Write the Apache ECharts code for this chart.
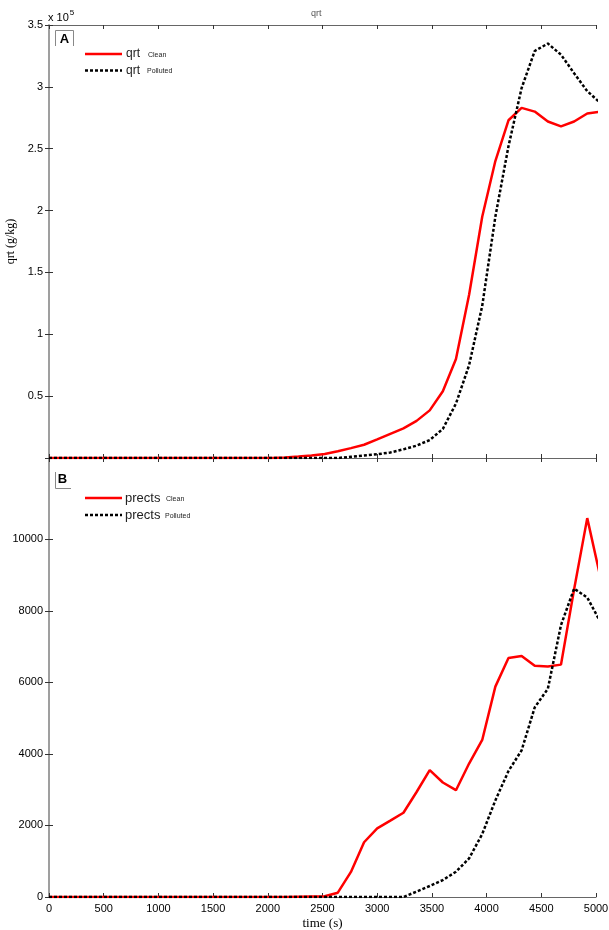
<!DOCTYPE html>
<html>
<head>
<meta charset="utf-8">
<script src="https://cdn.jsdelivr.net/npm/echarts@6/dist/echarts.min.js"></script>
<style>html,body{margin:0;padding:0;background:#fff}#c{width:609px;height:930px}</style>
</head>
<body>
<div id="c"></div>
<script>
const times = [0,120,240,360,480,600,720,840,960,1080,1200,1320,1440,1560,1680,1800,1920,2040,2160,2280,2400,2520,2640,2760,2880,3000,3120,3240,3360,3480,3600,3720,3840,3960,4080,4200,4320,4440,4560,4680,4800,4920,5040];
const qrtClean = [0,0,0,0,0,0,0,0,0,0,0,0,0,0,0,0,0,0,500,1200,2000,3300,5500,8000,10700,15000,19500,24000,30000,38500,54000,80000,132000,195000,240000,273000,283000,280000,272000,268000,272000,278500,280000];
const qrtPolluted = [0,0,0,0,0,0,0,0,0,0,0,0,0,0,0,0,0,0,0,0,0,0,0,1000,2000,3000,4500,7000,10000,14500,23500,44000,75000,123000,195000,252000,299000,329000,335000,326000,311000,296500,287000];
const prectsClean = [0,0,0,0,0,0,0,0,0,0,0,0,0,0,0,0,0,0,0,10,15,20,120,700,1530,1920,2135,2355,2935,3545,3200,2985,3730,4390,5880,6680,6735,6465,6445,6495,8600,10590,8940];
const prectsPolluted = [0,0,0,0,0,0,0,0,0,0,0,0,0,0,0,0,0,0,0,0,0,0,0,0,0,0,0,0,150,307,474,706,1080,1760,2700,3520,4100,5300,5820,7600,8620,8370,7690];
const xTicks = [0,500,1000,1500,2000,2500,3000,3500,4000,4500,5000];
const qrtTicks = [0,50000,100000,150000,200000,250000,300000,350000];
const prectsTicks = [0,2000,4000,6000,8000,10000];

const pair = (arr) => times.map((t, i) => [t, arr[i]]);
const chart = echarts.init(document.getElementById('c'), null, {renderer: 'canvas'});
const sans = 'Liberation Sans';
const serif = 'Liberation Serif';
const axisLineGray = {lineStyle: {color: '#999', width: 1.5}};
const axisLineDark = {lineStyle: {color: '#666', width: 1}};
const tickStyle = {inside: true, length: 4, lineStyle: {color: '#333', width: 1}};

function xAx(grid, pos, labels) {
  return {
    type: 'value', gridIndex: grid, position: pos, min: 0, max: 5000,
    axisLine: {show: true, onZero: false, ...axisLineDark},
    axisTick: {show: true, ...tickStyle, customValues: xTicks},
    axisLabel: {show: labels, color: '#000', fontFamily: sans, fontSize: 11, margin: 6,
      customValues: xTicks, formatter: v => String(v)},
    splitLine: {show: false}
  };
}

const option = {
  animation: false,
  backgroundColor: '#fff',
  title: {text: 'qrt', left: 306, top: 4, textStyle: {fontSize: 9, fontWeight: 'normal', color: '#555', fontFamily: sans}},
  grid: [
    {left: 49, right: 13, top: 25, height: 433, outerBoundsMode: 'none', containLabel: false},
    {left: 49, right: 13, top: 458, height: 439, outerBoundsMode: 'none', containLabel: false}
  ],
  xAxis: [
    xAx(0, 'bottom', false),
    xAx(0, 'top', false),
    {...xAx(1, 'bottom', true), name: 'time (s)', nameLocation: 'middle', nameGap: 20,
      nameTextStyle: {fontFamily: serif, fontSize: 13, color: '#000'}},
    xAx(1, 'top', false)
  ],
  yAxis: [
    {type: 'value', gridIndex: 0, position: 'left', min: 0, max: 350000,
      name: 'qrt (g/kg)', nameLocation: 'middle', nameGap: 27, nameRotate: 90,
      nameTextStyle: {fontFamily: serif, fontSize: 12, color: '#000'},
      axisLine: {show: true, ...axisLineGray}, axisTick: {show: true, ...tickStyle, customValues: qrtTicks},
      axisLabel: {color: '#000', fontFamily: sans, fontSize: 11, margin: 6, customValues: qrtTicks,
        formatter: v => v === 0 ? '' : String(+(v / 1e5).toFixed(1))},
      splitLine: {show: false}},
    {type: 'value', gridIndex: 0, position: 'right', min: 0, max: 350000,
      axisLine: {show: true, ...axisLineGray}, axisTick: {show: true, ...tickStyle, customValues: qrtTicks},
      axisLabel: {show: false}, splitLine: {show: false}},
    {type: 'value', gridIndex: 1, position: 'left', min: 0, max: 12270,
      axisLine: {show: true, ...axisLineGray},
      axisTick: {show: true, ...tickStyle, customValues: prectsTicks},
      axisLabel: {color: '#000', fontFamily: sans, fontSize: 11, margin: 6, customValues: prectsTicks,
        formatter: v => String(v)},
      splitLine: {show: false}},
    {type: 'value', gridIndex: 1, position: 'right', min: 0, max: 12270,
      axisLine: {show: true, ...axisLineGray},
      axisTick: {show: true, ...tickStyle, customValues: prectsTicks},
      axisLabel: {show: false}, splitLine: {show: false}}
  ],
  series: [
    {name: 'qrt Clean', type: 'line', xAxisIndex: 0, yAxisIndex: 0, data: pair(qrtClean), showSymbol: false,
      lineStyle: {color: '#ff0000', width: 2.5}, z: 3},
    {name: 'qrt Polluted', type: 'line', xAxisIndex: 0, yAxisIndex: 0, data: pair(qrtPolluted), showSymbol: false,
      lineStyle: {color: '#000', width: 2.5, type: [3, 2]}, z: 4},
    {name: 'prects Clean', type: 'line', xAxisIndex: 2, yAxisIndex: 2, data: pair(prectsClean), showSymbol: false,
      lineStyle: {color: '#ff0000', width: 2.5}, z: 3},
    {name: 'prects Polluted', type: 'line', xAxisIndex: 2, yAxisIndex: 2, data: pair(prectsPolluted), showSymbol: false,
      lineStyle: {color: '#000', width: 2.5, type: [3, 2]}, z: 4}
  ],
  graphic: [
    {type: 'text', left: 48, top: 9, style: {
      text: '{a|x 10}{b|5}', rich: {
        a: {fontFamily: sans, fontSize: 11, color: '#000', verticalAlign: 'bottom'},
        b: {fontFamily: sans, fontSize: 8, color: '#000', verticalAlign: 'top', padding: [0, 0, 6, 1]}
      }}},
    {type: 'polyline', shape: {points: [[55.5, 46], [55.5, 30.5], [73.5, 30.5], [73.5, 46]]},
      style: {stroke: '#888', lineWidth: 1, fill: null}},
    {type: 'text', x: 64.5, y: 39, style: {text: 'A', fontFamily: sans, fontWeight: 'bold', fontSize: 13,
      fill: '#000', align: 'center', verticalAlign: 'middle'}},
    {type: 'line', shape: {x1: 85, y1: 54, x2: 122, y2: 54}, style: {stroke: '#ff0000', lineWidth: 2.5}},
    {type: 'text', x: 126, y: 54, style: {text: 'qrt', fontFamily: sans, fontSize: 12, fill: '#222', verticalAlign: 'middle'}},
    {type: 'text', x: 148, y: 55, style: {text: 'Clean', fontFamily: sans, fontSize: 7, fill: '#222', verticalAlign: 'middle'}},
    {type: 'line', shape: {x1: 85, y1: 70.5, x2: 122, y2: 70.5}, style: {stroke: '#000', lineWidth: 2.5, lineDash: [3, 2]}},
    {type: 'text', x: 126, y: 70.5, style: {text: 'qrt', fontFamily: sans, fontSize: 12, fill: '#222', verticalAlign: 'middle'}},
    {type: 'text', x: 147, y: 71.5, style: {text: 'Polluted', fontFamily: sans, fontSize: 7, fill: '#222', verticalAlign: 'middle'}},
    {type: 'polyline', shape: {points: [[55.5, 472], [55.5, 488.5], [71, 488.5]]},
      style: {stroke: '#888', lineWidth: 1, fill: null}},
    {type: 'text', x: 62.5, y: 479, style: {text: 'B', fontFamily: sans, fontWeight: 'bold', fontSize: 13,
      fill: '#000', align: 'center', verticalAlign: 'middle'}},
    {type: 'line', shape: {x1: 85, y1: 498, x2: 122, y2: 498}, style: {stroke: '#ff0000', lineWidth: 2.5}},
    {type: 'text', x: 125, y: 498, style: {text: 'prects', fontFamily: sans, fontSize: 13, fill: '#222', verticalAlign: 'middle'}},
    {type: 'text', x: 166, y: 499, style: {text: 'Clean', fontFamily: sans, fontSize: 7, fill: '#222', verticalAlign: 'middle'}},
    {type: 'line', shape: {x1: 85, y1: 515, x2: 122, y2: 515}, style: {stroke: '#000', lineWidth: 2.5, lineDash: [3, 2]}},
    {type: 'text', x: 125, y: 515, style: {text: 'prects', fontFamily: sans, fontSize: 13, fill: '#222', verticalAlign: 'middle'}},
    {type: 'text', x: 165, y: 516, style: {text: 'Polluted', fontFamily: sans, fontSize: 7, fill: '#222', verticalAlign: 'middle'}}
  ]
};
chart.setOption(option);
</script>
</body>
</html>
